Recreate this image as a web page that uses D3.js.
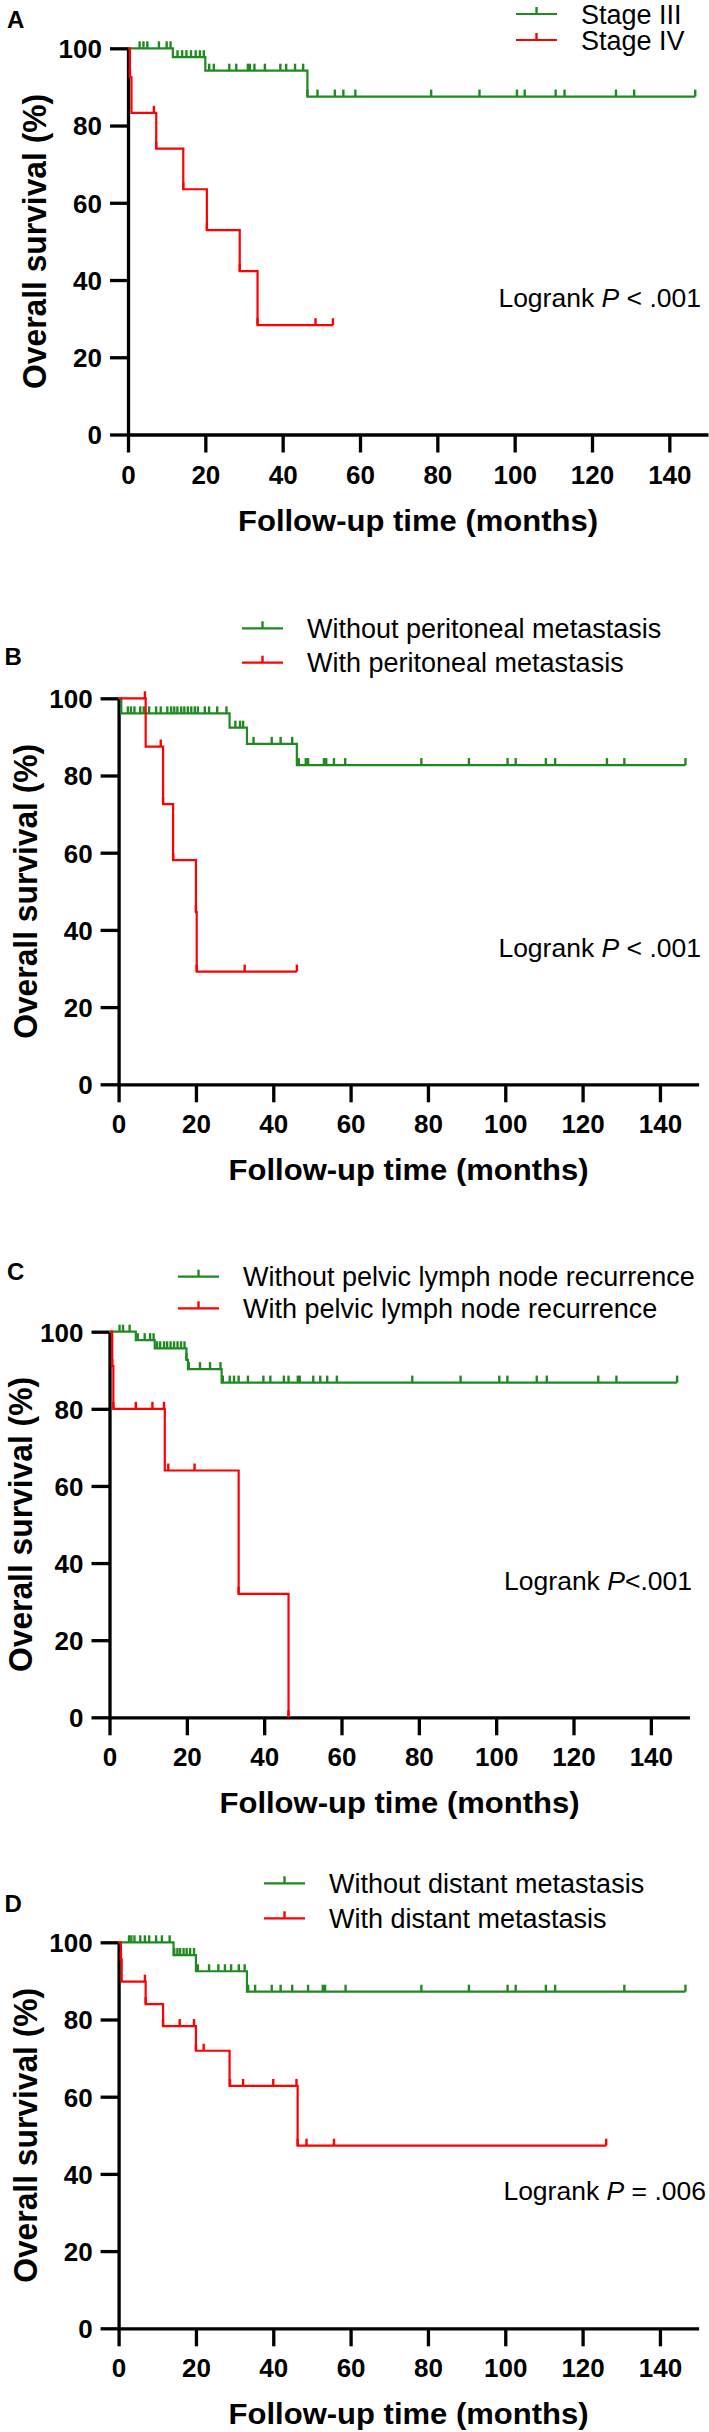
<!DOCTYPE html>
<html><head><meta charset="utf-8">
<script src="https://cdn.jsdelivr.net/npm/d3@7"></script>
<style>
html,body{margin:0;padding:0;background:#fff;}
svg{display:block;}
text{font-family:"Liberation Sans",Arial,Helvetica,sans-serif;fill:#000;}
</style></head>
<body>
<script>
// ---------------- DATA ----------------
const xTicks = [0, 20, 40, 60, 80, 100, 120, 140];
const yTicks = [0, 20, 40, 60, 80, 100];
const xTitle = "Follow-up time (months)";
const yTitle = "Overall survival (%)";

// Panel A
const labelsA = ["Stage III", "Stage IV"];
const pA = ["Logrank ", "P", " < .001"];
const stepsA_green = [[0,100],[11.6,97.7],[20,94.2],[46.4,87.5]];
const censA_green = [3,4,5,8,10,11,12.8,14,15.1,16.3,17.5,18.6,19.6,21,22.2,26.2,28,31,31.5,32.7,35.4,39.4,40.9,43.2,45.3,46.4,49,53.5,55.7,58.8,78.4,90.9,100.6,102.6,110.6,112.9,126.2,130.9,146.7];
const stepsA_red = [[0,100],[0.5,92.5],[0.9,83.3],[7.3,74],[14.3,63.5],[20.4,52.9],[28.9,42.3],[33.5,28.3]];
const censA_red = [0.5,6.7,7.3,14.3,20.4,28.9,33.5,48.5,53];

// Panel B
const labelsB = ["Without peritoneal metastasis", "With peritoneal metastasis"];
const pB = ["Logrank ", "P", " < .001"];
const stepsB_green = [[0,100],[0.7,96.1],[28.7,92.4],[33.2,88.2],[46.1,82.7]];
const censB_green = [2.4,3.2,4.1,5.6,6.5,7.9,9.7,10.9,12.6,13.6,14.4,15.2,16.2,17,17.9,18.8,19.7,20.5,22.3,23.4,25.5,27.9,30.2,31.4,32.2,34.9,39.6,41.9,44.9,46.6,48.4,49,53.1,53.7,55.7,58.6,78.3,90.6,100.6,102.7,110.5,112.9,126.3,130.8,146.6];
const stepsB_red = [[0,100],[7,87.5],[11.5,72.6],[14.1,58.1],[20,44.6],[20.2,29.2]];
const censB_red = [6.8,10.9,11.5,14.1,20,20.2,32.6,46.1];

// Panel C
const labelsC = ["Without pelvic lymph node recurrence", "With pelvic lymph node recurrence"];
const pC = ["Logrank ", "P", "<.001"];
const stepsC_green = [[0,100],[6.8,97.8],[11.7,95.7],[19.9,92.7],[20.3,90.3],[29,86.8]];
const censC_green = [2.6,3.5,5.2,7.3,9.1,10.5,11.4,12.3,13.1,14.1,14.9,15.8,16.7,17.6,18.5,19.4,19.9,20.5,23.4,26,28.7,29.3,31.1,32.2,33.4,35.8,39.8,41.6,45.1,46.3,48.7,49.2,52.7,54.5,56.3,58.8,78.3,90.8,100.8,102.9,110.5,113.1,126.4,131.1,146.8];
const stepsC_red = [[0,100],[0.7,91.1],[1.0,80],[14.3,64],[33.4,32],[46.3,0]];
const censC_red = [0.7,1.0,6.8,11.1,14.1,15.2,22,33.4,46.3];

// Panel D
const labelsD = ["Without distant metastasis", "With distant metastasis"];
const pD = ["Logrank ", "P", " = .006"];
const stepsD_green = [[0,100],[14.2,96.7],[20,92.5],[33.2,87.2]];
const censD_green = [2.7,3.3,4.1,5.6,6.8,7.9,9.7,11.2,13.2,14.4,15.2,15.9,16.8,17.6,18.5,19.5,20.5,23.4,25.8,27.5,29.1,31.1,32.6,33.5,35.3,39.6,41.9,44.9,49,52.8,53.4,58.7,78.3,90.6,100.6,102.7,110.5,112.9,130.8,146.6];
const stepsD_red = [[0,100],[0.6,95.5],[0.8,89.8],[7,84],[11.5,78.3],[20,71.9],[28.7,62.8],[46.3,47.3]];
const censD_red = [0.6,6.8,7,11.5,15.8,19.5,20,22,28.8,32.2,40,46,46.3,48.6,55.7,126.1];

// ---------------- LAYOUT ----------------
const W = 709, H = 2432;
const GREEN = "#1f8a1f", RED = "#ff0000";
const panels = [
  {letter:"A", lx:7, ly:28, x0:128, y100:48.3, y0:434.5, leg:{x:516, y:14, gap:26}, lr:{x:701, y:306.7},
   labels:labelsA, p:pA, series:[[stepsA_green,censA_green,GREEN],[stepsA_red,censA_red,RED]]},
  {letter:"B", lx:4.5, ly:665, x0:118.6, y100:698.3, y0:1084.3, leg:{x:242, y:628.3, gap:34.4}, lr:{x:701, y:957},
   labels:labelsB, p:pB, series:[[stepsB_green,censB_green,GREEN],[stepsB_red,censB_red,RED]]},
  {letter:"C", lx:7, ly:1280, x0:109.5, y100:1331.7, y0:1717.3, leg:{x:178, y:1276.7, gap:31.6}, lr:{x:692, y:1590},
   labels:labelsC, p:pC, series:[[stepsC_green,censC_green,GREEN],[stepsC_red,censC_red,RED]]},
  {letter:"D", lx:4.5, ly:1912, x0:118.6, y100:1942.3, y0:2328.3, leg:{x:264, y:1883.3, gap:35}, lr:{x:706, y:2200},
   labels:labelsD, p:pD, series:[[stepsD_green,censD_green,GREEN],[stepsD_red,censD_red,RED]]}
];

const svg = d3.select("body").append("svg").attr("width", W).attr("height", H);
svg.append("rect").attr("width", W).attr("height", H).attr("fill", "#fff");

function valueAt(steps, t){
  let v = steps[0][1];
  for (const [st, sv] of steps){ if (st <= t) v = sv; }
  return v;
}

panels.forEach(P => {
  const g = svg.append("g");
  const x = d3.scaleLinear().domain([0,150]).range([P.x0, P.x0 + 580]);
  const y = d3.scaleLinear().domain([0,100]).range([P.y0, P.y100]);

  // panel letter
  g.append("text").attr("x", P.lx).attr("y", P.ly).attr("font-size", 24).attr("font-weight", "bold").text(P.letter);

  // axes
  const xa = g.append("g").attr("transform", `translate(0,${P.y0})`)
    .call(d3.axisBottom(x).tickValues(xTicks).tickSize(18).tickSizeOuter(0).tickPadding(8));
  const ya = g.append("g").attr("transform", `translate(${P.x0},0)`)
    .call(d3.axisLeft(y).tickValues(yTicks).tickSize(18).tickSizeOuter(0).tickPadding(8));
  [xa, ya].forEach(a => {
    a.select(".domain").attr("stroke", "#000").attr("stroke-width", 3.3);
    a.selectAll(".tick line").attr("stroke", "#000").attr("stroke-width", 3.3);
    a.selectAll(".tick text").attr("font-size", 26).attr("font-weight", "bold")
      .attr("font-family", '"Liberation Sans",Arial,sans-serif').attr("fill", "#000");
  });
  xa.selectAll(".tick text").attr("dy", null).attr("y", 49).attr("dominant-baseline", "alphabetic");
  ya.selectAll(".tick text").attr("x", -26).attr("dy", "0.36em");

  // axis titles
  g.append("text").attr("x", (x.range()[0] + x.range()[1]) / 2).attr("y", P.y0 + 96)
    .attr("text-anchor", "middle").attr("font-size", 29).attr("font-weight", "bold")
    .attr("textLength", 360).attr("lengthAdjust", "spacingAndGlyphs").text(xTitle);
  const ytx = Math.max(P.x0 - 82, 31.5);
  g.append("text").attr("transform", `translate(${ytx},${(P.y0 + P.y100) / 2}) rotate(-90)`)
    .attr("text-anchor", "middle").attr("font-size", 34).attr("font-weight", "bold")
    .attr("textLength", 295).attr("lengthAdjust", "spacingAndGlyphs").text(yTitle);

  // curves
  const line = d3.line().x(d => x(d[0])).y(d => y(d[1])).curve(d3.curveStepAfter);
  P.series.forEach(([steps, cens, col]) => {
    const tEnd = Math.max(d3.max(cens), d3.max(steps, d => d[0]));
    const pts = steps.concat([[tEnd, steps[steps.length - 1][1]]]);
    g.append("path").attr("d", line(pts)).attr("fill", "none").attr("stroke", col).attr("stroke-width", 2.2);
    g.selectAll(null).data(cens).enter().append("line")
      .attr("x1", d => x(d)).attr("x2", d => x(d))
      .attr("y1", d => y(valueAt(steps, d))).attr("y2", d => y(valueAt(steps, d)) - 7)
      .attr("stroke", col).attr("stroke-width", 2.4);
  });

  // legend
  P.labels.forEach((lab, i) => {
    const col = P.series[i][2];
    const ly = P.leg.y + i * P.leg.gap;
    g.append("line").attr("x1", P.leg.x).attr("x2", P.leg.x + 41).attr("y1", ly).attr("y2", ly)
      .attr("stroke", col).attr("stroke-width", 2.2);
    g.append("line").attr("x1", P.leg.x + 20.5).attr("x2", P.leg.x + 20.5).attr("y1", ly).attr("y2", ly - 7)
      .attr("stroke", col).attr("stroke-width", 2.4);
    g.append("text").attr("x", P.leg.x + 65).attr("y", ly + 9.5).attr("font-size", 27).text(lab);
  });

  // logrank annotation
  const t = g.append("text").attr("x", P.lr.x).attr("y", P.lr.y).attr("text-anchor", "end").attr("font-size", 26.5);
  t.append("tspan").text(P.p[0]);
  t.append("tspan").attr("font-style", "italic").text(P.p[1]);
  t.append("tspan").text(P.p[2]);
});
</script>
</body></html>
